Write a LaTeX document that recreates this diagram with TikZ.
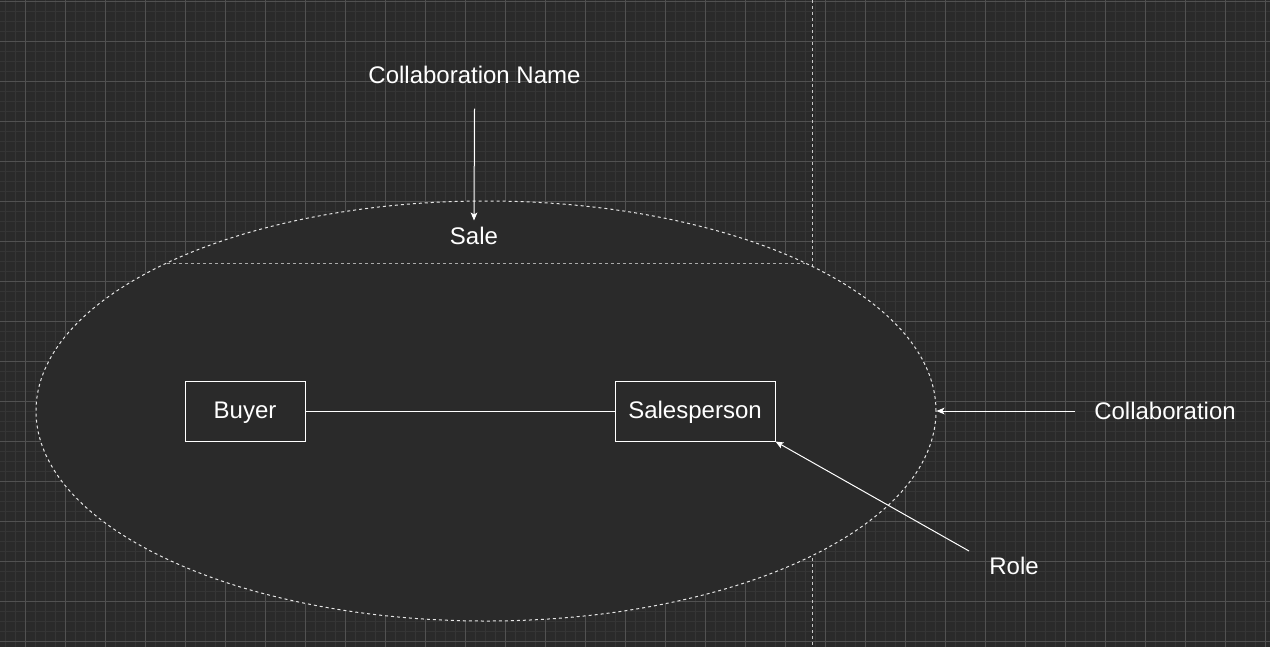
\documentclass[tikz,border=0pt]{standalone}
\usepackage{fontspec}
\setmainfont{Liberation Sans}
\usetikzlibrary{arrows.meta,shapes.geometric}

\definecolor{canvas}{HTML}{2A2A2A}
\definecolor{gridminor}{HTML}{353535}
\definecolor{gridmajor}{HTML}{515151}
\definecolor{dashline}{HTML}{C8C8C8}

\tikzset{every picture/.style={line width=0.75pt}}
\tikzset{
  txt/.style={text=white, inner sep=0.75pt, font=\fontsize{18}{21.6}\selectfont},
  rolebox/.style={txt, draw=white, fill=canvas, minimum height=45pt,
                  text height=13pt, text depth=1.6pt},
  pointer/.style={draw=white, -{Stealth[length=6pt,width=5pt,inset=1.5pt]}},
  dashes/.style={dash pattern=on 2.25pt off 2.25pt},
}

\begin{document}
\begin{tikzpicture}[x=0.75pt,y=0.75pt,yscale=-1,xscale=1]
    \useasboundingbox (0,0) rectangle (1270,647);
    % Background and grid
    \fill[canvas] (0,0) rectangle (1270,647);
    \foreach \x in {5,15,...,1265} \draw[gridminor] (\x,0) -- (\x,647);
    \foreach \y in {1,11,...,641} \draw[gridminor] (0,\y) -- (1270,\y);
    \foreach \x in {25,65,...,1265} \draw[gridmajor] (\x,0) -- (\x,647);
    \foreach \y in {1,41,...,641} \draw[gridmajor] (0,\y) -- (1270,\y);
    %Straight Lines (page break)
    \draw[dashline, dashes] (812,0) -- (812,647);
    %Shape: Ellipse (collaboration)
    \node[ellipse, draw=white!90!black, dashes, fill=canvas, inner sep=0pt,
          minimum width=675pt, minimum height=315pt] (collab) at (486,411) {};
    %Straight Lines (name compartment)
    \draw[dashline!85!black, dashes] (166.8,263) -- (805.2,263);
    % Text Node
    \node[txt] (sale) at (474,236) [minimum height=22.5pt] {Sale};
    % Text Node
    \node[txt] (cname) at (474.5,75) [minimum height=49.5pt] {Collaboration Name};
    % Text Node
    \node[txt] (clabel) at (1165,411) [inner xsep=14pt] {Collaboration};
    % Text Node
    \node[txt] (role) at (1014,566) {Role};
    \coordinate (roletail) at (969,551);
    %Shape: Rectangle
    \node[rolebox, minimum width=90pt] (buyer) at (245,411) {Buyer};
    %Shape: Rectangle
    \node[rolebox, minimum width=120pt] (sales) at (695,411) {Salesperson};
    %Straight Lines
    \draw[white] (buyer.east) -- (sales.west);
    %Straight Lines
    \draw[pointer] (cname.south) -- (sale.north);
    %Straight Lines
    \draw[pointer] (clabel.west) -- (collab.east);
    %Straight Lines
    \draw[pointer] (roletail) -- (sales.south east);
\end{tikzpicture}
\end{document}
